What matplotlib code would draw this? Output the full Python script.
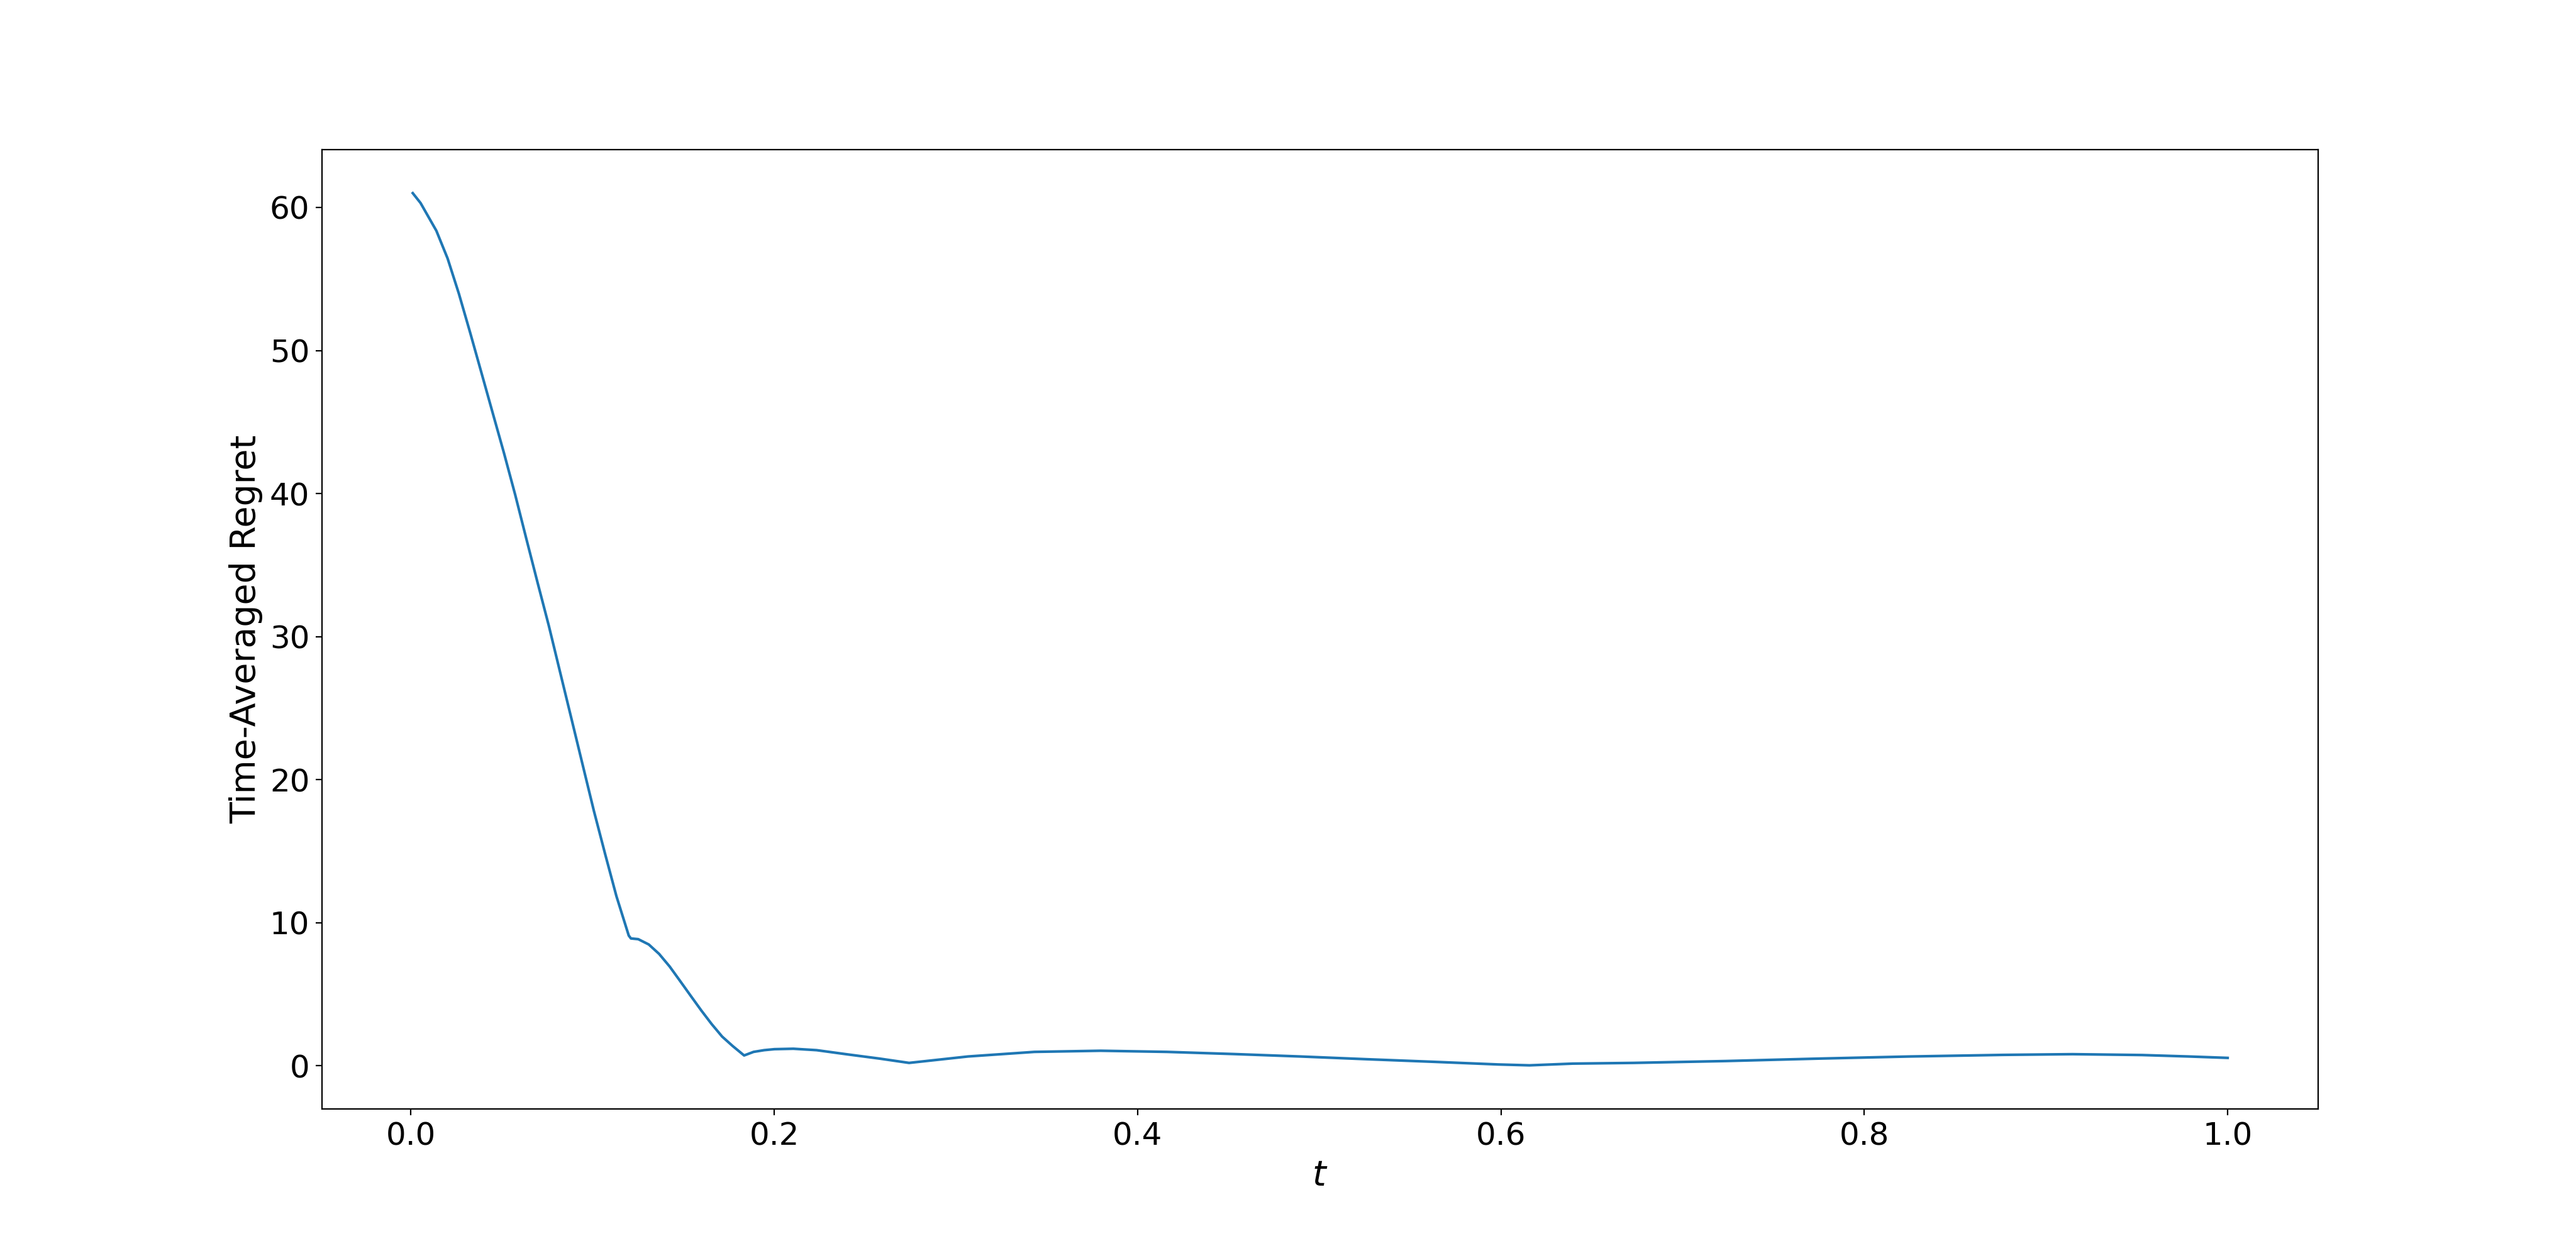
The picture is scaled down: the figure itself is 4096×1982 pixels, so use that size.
import matplotlib
matplotlib.use("Agg")
import matplotlib.pyplot as plt

t_values = [0.001, 0.0053, 0.014, 0.0202, 0.0264, 0.0326, 0.0388, 0.045, 0.0512,
            0.0574, 0.0636, 0.0697, 0.0759, 0.0821, 0.0883, 0.0945, 0.1007, 0.1069,
            0.1131, 0.1199, 0.1211, 0.1251, 0.1309, 0.1366, 0.1424,
            0.1482, 0.154, 0.1598, 0.1655, 0.1713, 0.1771, 0.1834, 0.1886, 0.1944,
            0.2001, 0.2105, 0.2233, 0.2406, 0.258, 0.2742, 0.3067, 0.3432, 0.3797,
            0.4161, 0.4527, 0.4892, 0.5256, 0.5621, 0.5986, 0.6157, 0.6395, 0.673,
            0.7238, 0.7747, 0.8256, 0.8765, 0.9146, 0.9528, 0.9782, 1.0]
regret_values = [61.0, 60.31, 58.37, 56.43, 53.97, 51.25, 48.45, 45.64, 42.84,
                 39.91, 36.8, 33.78, 30.76, 27.52, 24.29, 21.05, 17.82, 14.8,
                 11.86, 9.1, 8.9, 8.85, 8.48, 7.82, 6.94,
                 5.92, 4.89, 3.87, 2.92, 2.04, 1.38, 0.72, 0.97, 1.09,
                 1.16, 1.19, 1.09, 0.79, 0.5, 0.2, 0.65, 0.97, 1.05,
                 0.97, 0.82, 0.65, 0.46, 0.28, 0.09, 0.03, 0.15, 0.2,
                 0.33, 0.5, 0.65, 0.76, 0.81, 0.75, 0.65, 0.55]

x_label = "$t$"
y_label = "Time-Averaged Regret"

fig = plt.figure(figsize=(20.48, 9.91), dpi=200)
ax = fig.add_subplot(111)
ax.plot(t_values, regret_values, color="#1f77b4", linewidth=1.5)
ax.set_xlabel(x_label, fontsize=20)
ax.set_ylabel(y_label, fontsize=20)
ax.tick_params(axis="both", labelsize=18)
fig.savefig("out.png", dpi=200)
